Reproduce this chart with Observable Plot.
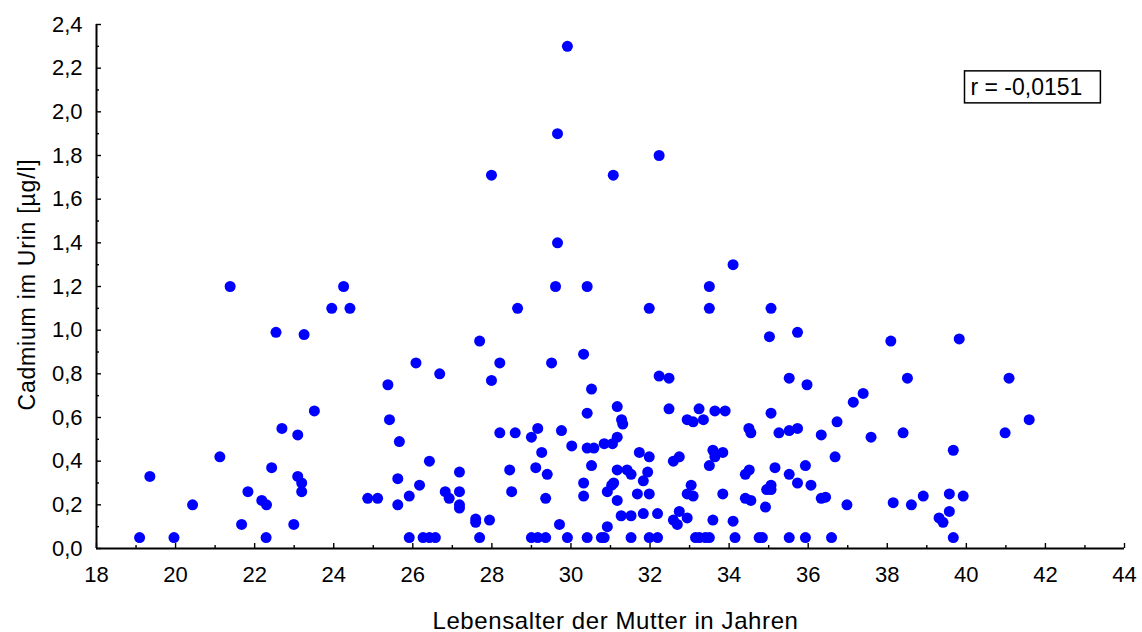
<!DOCTYPE html>
<html>
<head>
<meta charset="utf-8">
<script src="https://cdn.jsdelivr.net/npm/d3@7"></script>
<script src="https://cdn.jsdelivr.net/npm/@observablehq/plot@0.6"></script>
<style>
  html, body { margin: 0; padding: 0; background: #fff; }
  svg { display: block; }
</style>
</head>
<body>
<script>
// Age of mother (years)
const ages = [
  21.38,24.25,23.95,24.41,22.54,23.25,23.51,22.69,23.09,21.12,19.35,22.43,23.09,23.19,23.19,21.83,22.18,22.30,20.43,21.67,22.99,19.09,19.96,22.29,
  29.61,30.41,28.65,27.69,30.32,26.08,28.20,29.51,26.68,27.99,25.37,30.52,
  25.41,30.41,25.66,28.20,28.59,29.00,29.16,29.76,29.26,30.02,30.41,30.58,30.84,31.05,
  26.42,25.62,27.18,28.45,29.11,29.40,30.52,
  24.86,25.11,25.62,25.91,26.17,26.82,26.92,27.18,27.18,27.18,28.50,29.36,30.32,30.32,30.92,31.03,31.08,
  27.59,27.59,27.94,29.71,30.92,
  25.91,26.26,26.42,26.57,27.69,29.00,29.16,29.36,29.91,30.41,30.77,30.84,
  34.10,33.50,31.98,33.50,35.06,35.02,35.73,32.23,32.48,35.52,35.97,37.39,37.14,31.17,32.48,33.24,33.64,33.90,35.06,32.94,33.09,33.35,31.28,31.31,34.50,34.55,35.26,35.52,35.73,36.33,36.73,37.59,31.17,
  31.73,31.98,32.59,32.74,33.59,33.64,33.84,33.50,31.17,31.42,31.52,31.94,31.83,34.41,34.51,35.16,35.52,35.93,36.68,35.73,36.07,
  31.17,31.68,31.98,32.94,33.04,33.09,33.84,34.41,34.55,34.95,35.06,35.06,34.92,36.33,36.44,36.98,
  31.27,31.52,31.83,32.19,32.59,32.74,32.69,32.94,33.59,34.10,
  31.52,31.98,32.19,33.15,33.25,33.40,33.50,34.15,34.76,34.84,35.52,35.93,36.59,
  38.09,39.82,38.51,41.08,41.59,38.40,40.98,39.67,38.15,38.61,38.91,39.57,39.92,39.57,39.31,39.41,39.67,
  29.91,29.66,32.23,27.99,31.07,29.66
];
// Cadmium in urine (µg/l)
const cadmium = [
  1.20,1.20,1.10,1.10,0.99,0.98,0.63,0.55,0.52,0.42,0.33,0.37,0.33,0.30,0.26,0.26,0.22,0.20,0.20,0.11,0.11,0.05,0.05,0.05,
  1.20,1.20,1.10,0.95,0.89,0.85,0.85,0.85,0.80,0.77,0.75,0.73,
  0.59,0.62,0.49,0.53,0.53,0.51,0.55,0.54,0.44,0.47,0.46,0.46,0.48,0.48,
  0.40,0.32,0.35,0.36,0.37,0.34,0.38,
  0.23,0.23,0.20,0.24,0.29,0.26,0.23,0.26,0.20,0.185,0.26,0.23,0.30,0.24,0.26,0.29,0.30,
  0.135,0.12,0.13,0.11,0.10,
  0.05,0.05,0.05,0.05,0.05,0.05,0.05,0.05,0.05,0.05,0.05,0.05,
  1.30,1.20,1.10,1.10,1.10,0.97,0.99,0.79,0.78,0.78,0.75,0.71,0.67,0.65,0.64,0.64,0.63,0.63,0.62,0.59,0.58,0.59,0.59,0.57,0.55,0.53,0.53,0.54,0.55,0.52,0.58,0.51,0.51,
  0.44,0.42,0.40,0.42,0.45,0.42,0.44,0.38,0.36,0.36,0.34,0.35,0.31,0.34,0.36,0.37,0.34,0.38,0.42,0.30,0.29,
  0.22,0.25,0.25,0.25,0.29,0.24,0.25,0.23,0.22,0.27,0.29,0.27,0.19,0.23,0.235,0.20,
  0.15,0.15,0.16,0.16,0.13,0.17,0.11,0.14,0.13,0.125,
  0.05,0.05,0.05,0.05,0.05,0.05,0.05,0.05,0.05,0.05,0.05,0.05,0.05,
  0.95,0.96,0.78,0.78,0.59,0.53,0.53,0.45,0.21,0.20,0.24,0.25,0.24,0.17,0.14,0.12,0.05,
  2.30,1.90,1.80,1.71,1.71,1.40
];

const xMajorTicks = [18,20,22,24,26,28,30,32,34,36,38,40,42,44];
const xMinorTicks = [19,21,23,25,27,29,31,33,35,37,39,41,43];
const yMajorTicks = [0,0.2,0.4,0.6,0.8,1.0,1.2,1.4,1.6,1.8,2.0,2.2,2.4];
const yMinorTicks = [0.1,0.3,0.5,0.7,0.9,1.1,1.3,1.5,1.7,1.9,2.1,2.3];
const xTitle = "Lebensalter der Mutter in Jahren";
const yTitle = "Cadmium im Urin [µg/l]";
const rLabel = "r = -0,0151";

const data = ages.map((a, i) => ({age: a, cd: cadmium[i]}));
const fmtY = d => d.toFixed(1).replace(".", ",");

const font = "Arial, 'Liberation Sans', Helvetica, sans-serif";

const chart = Plot.plot({
  width: 1142,
  height: 632,
  marginLeft: 96,
  marginRight: 18,
  marginTop: 24,
  marginBottom: 84,
  x: {domain: [18, 44]},
  y: {domain: [0, 2.4]},
  style: {fontFamily: font, fontSize: "22px", color: "#000", background: "#fff", overflow: "visible"},
  marks: [
    Plot.axisX(xMinorTicks, {anchor: "bottom", tickSize: 3, dy: -3, tickFormat: () => "", label: null, strokeWidth: 1.4}),
    Plot.axisX(xMajorTicks, {anchor: "bottom", tickSize: 5, dy: -5, tickPadding: 18, tickFormat: d => String(d), label: null, strokeWidth: 1.4, fontSize: 22}),
    Plot.axisY(yMinorTicks, {anchor: "left", tickSize: 3, dx: 3, tickFormat: () => "", label: null, strokeWidth: 1.4}),
    Plot.axisY(yMajorTicks, {anchor: "left", tickSize: 5, dx: 5, tickPadding: 14, tickFormat: fmtY, label: null, strokeWidth: 1.4, fontSize: 22}),
    Plot.ruleX([18], {stroke: "#000", strokeWidth: 2}),
    Plot.ruleY([0], {stroke: "#000", strokeWidth: 2}),
    Plot.dot(data, {x: "age", y: "cd", r: 5.5, fill: "#0000ff", stroke: null}),
    Plot.text([xTitle], {frameAnchor: "bottom", textAnchor: "middle", dx: 5, dy: 73, lineAnchor: "middle", fontSize: 24, fill: "#000"}),
    Plot.text([yTitle], {frameAnchor: "left", textAnchor: "middle", rotate: -90, dx: -69, dy: -2, lineAnchor: "middle", fontSize: 23, fill: "#000"}),
    Plot.text([rLabel], {frameAnchor: "top-right", textAnchor: "start", dx: -154, dy: 63, lineAnchor: "middle", fontSize: 23, fill: "#000"})
  ]
});
document.body.appendChild(chart);

// letter spacing for titles, box round the r label
const svg = d3.select(chart);
svg.selectAll("text").filter(function() { return this.textContent === xTitle; }).attr("letter-spacing", "0.6px");
svg.selectAll("text").filter(function() { return this.textContent === yTitle; }).attr("letter-spacing", "0.8px");
const rText = svg.selectAll("text").filter(function() { return this.textContent === rLabel; });
if (!rText.empty()) {
  const node = rText.node();
  const bb = node.getBBox();
  const g = d3.select(node.parentNode);
  const rect = g.insert("rect", "text")
    .attr("x", bb.x - 6)
    .attr("y", bb.y - 3)
    .attr("width", bb.width + 24)
    .attr("height", bb.height + 6)
    .attr("fill", "#fff")
    .attr("stroke", "#000")
    .attr("stroke-width", 1.5);
  const tr = node.getAttribute("transform");
  if (tr) rect.attr("transform", tr);
}
</script>
</body>
</html>
